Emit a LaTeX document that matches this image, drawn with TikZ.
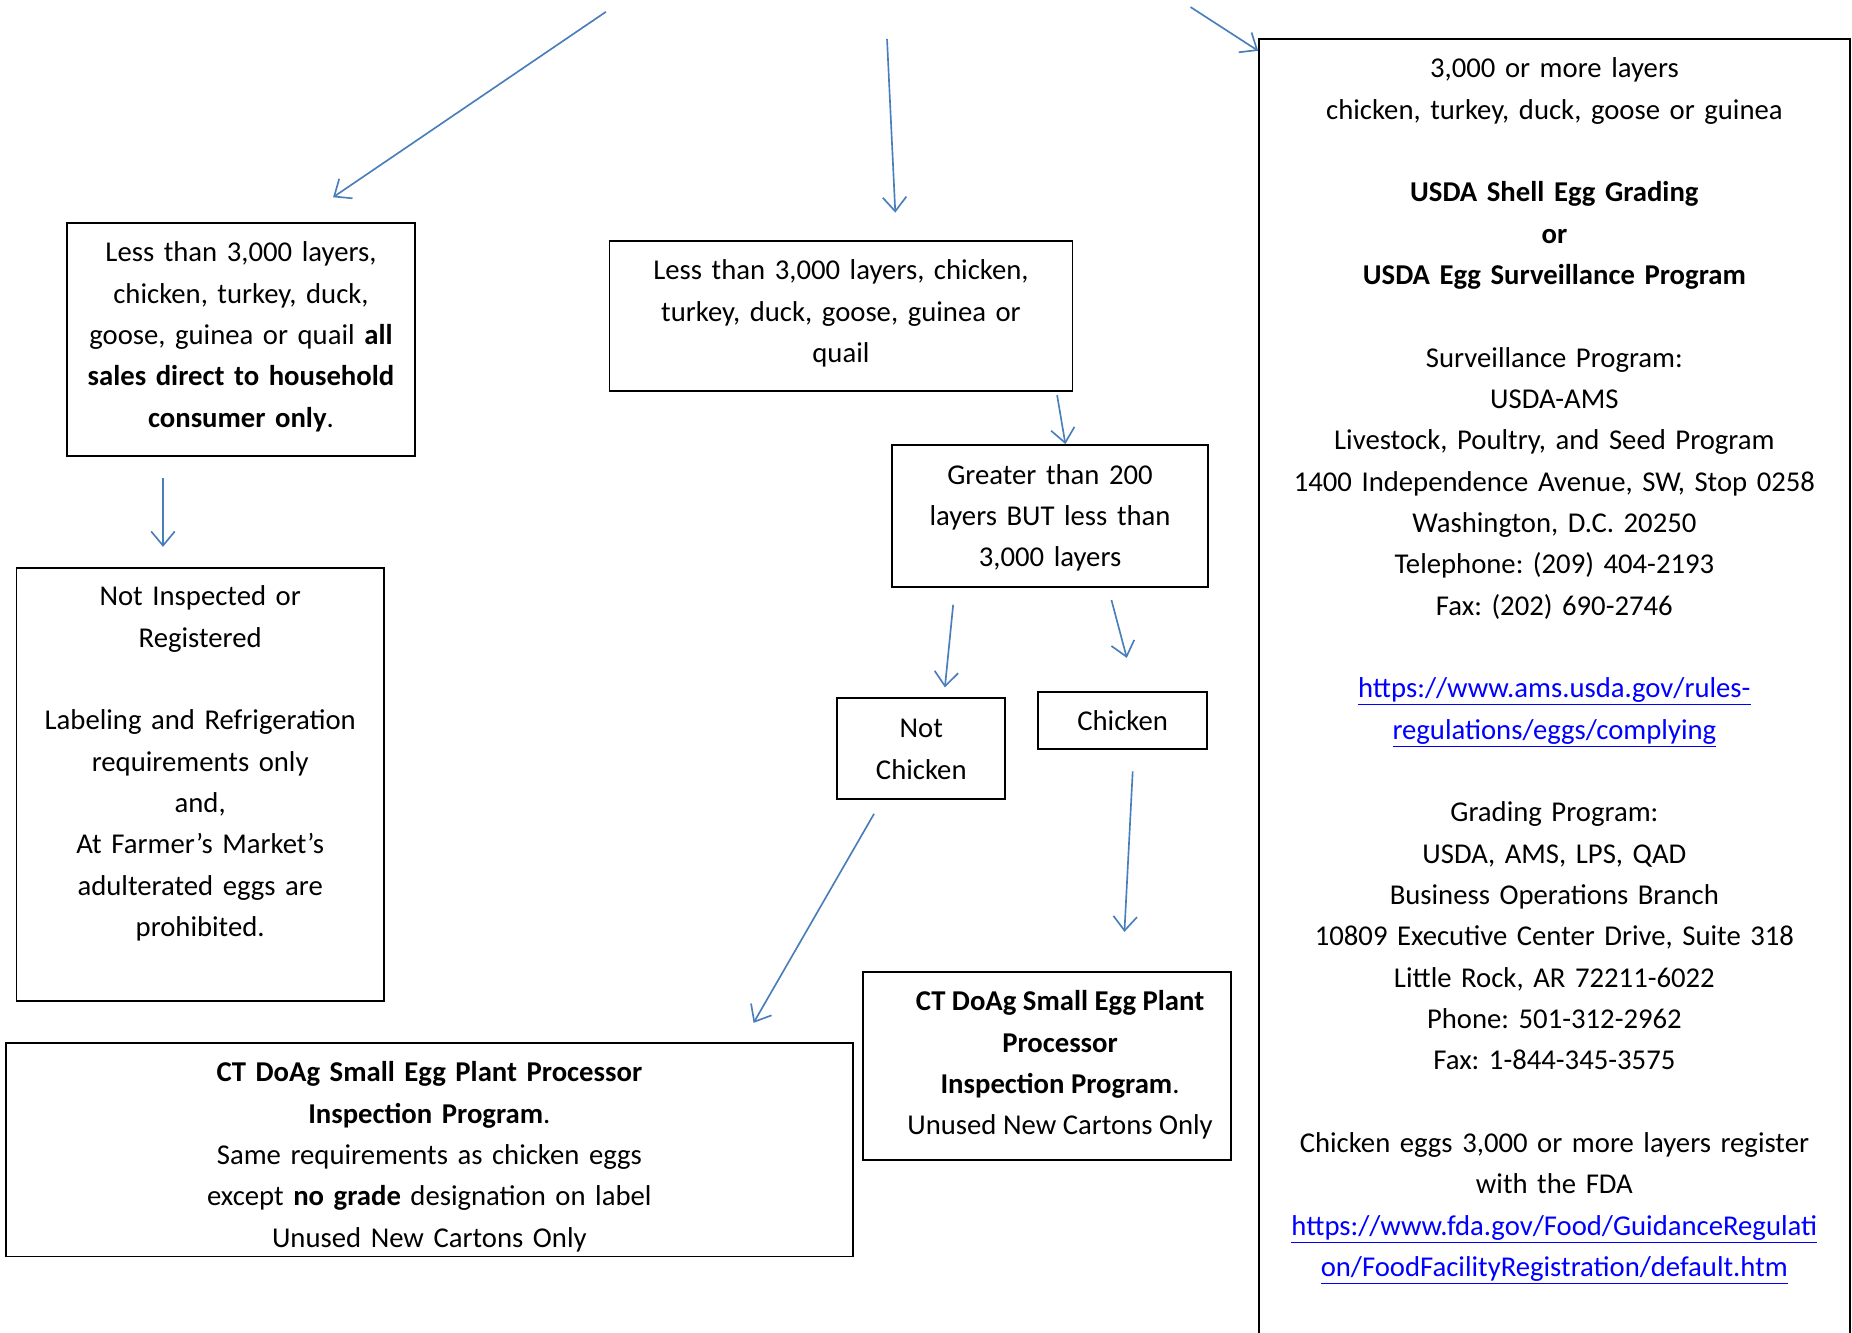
\documentclass[tikz,border=0pt]{standalone}
\usepackage{fontspec}
\setmainfont{Carlito}
\usetikzlibrary{arrows.meta}
\definecolor{arrowblue}{RGB}{74,126,187}
\definecolor{linkblue}{RGB}{0,0,255}
\newcommand{\weblink}[1]{\textcolor{linkblue}{\underline{#1}}}
\frenchspacing

\begin{document}
\begin{tikzpicture}[x=1pt,y=-1pt,
  font=\fontsize{24.3}{35}\selectfont,
  box/.style={draw, line width=1.6pt, inner sep=0pt, align=center, anchor=north},
  flow/.style={draw=arrowblue, line width=1.4pt, -{Straight Barb[length=12pt,width=20pt]}}]
\useasboundingbox (0,0) rectangle (1568,1128);
\clip (0,0) rectangle (1568,1128);

% boxes
\node[box, text width=294pt, text height=33pt, text depth=164pt] (lessall) at (204,188)
  {Less than 3,000 layers,\\ chicken, turkey, duck,\\ goose, guinea or quail \textbf{all}\\ \textbf{sales direct to household}\\ \textbf{consumer only}.};
\node[box, text width=392pt, text height=33pt, text depth=94pt] (lessmid) at (712,203)
  {Less than 3,000 layers, chicken,\\ turkey, duck, goose, guinea or\\ quail};
\node[box, text width=268pt, text height=33pt, text depth=87pt] (range) at (889,376)
  {Greater than 200\\ layers BUT less than\\ 3,000 layers};
\node[box, text width=142pt, text height=34pt, text depth=52pt] (notchicken) at (780,590)
  {Not\\ Chicken};
\node[box, text width=143pt, text height=33pt, text depth=15pt] (chicken) at (950.5,585)
  {Chicken};
\node[box, text width=311pt, text height=32pt, text depth=335pt] (notinsp) at (169.5,480)
  {Not Inspected or\\ Registered\\[35pt] Labeling and Refrigeration\\ requirements only\\ and,\\ At Farmer’s Market’s\\ adulterated eggs are\\ prohibited.};
\node[box, text width=717pt, text height=33pt, text depth=148pt] (ctleft) at (363.5,882)
  {\textbf{CT DoAg Small Egg Plant Processor}\\ \textbf{Inspection Program}.\\ Same requirements as chicken eggs\\ except \textbf{no grade} designation on label\\ Unused New Cartons Only};
% text sits a little right of centre in this one
\node[box, align=left, minimum width=311pt, text height=33pt, text depth=126pt] (ctright) at (886.5,822)
  {\hspace*{22pt}\begin{tabular}[t]{@{}c@{}}\textbf{CT DoAg Small Egg Plant}\\ \textbf{Processor}\\ \textbf{Inspection Program}.\\ Unused New Cartons Only\end{tabular}};
\node[box, text width=500pt, text height=33pt, text depth=1120pt] (usda) at (1316,32)
  {3,000 or more layers\\
   chicken, turkey, duck, goose or guinea\\[35pt]
   \textbf{USDA Shell Egg Grading}\\
   \textbf{or}\\
   \textbf{USDA Egg Surveillance Program}\\[35pt]
   Surveillance Program:\\
   USDA-AMS\\
   Livestock, Poultry, and Seed Program\\
   1400 Independence Avenue, SW, Stop 0258\\
   Washington, D.C. 20250\\
   Telephone: (209) 404-2193\\
   Fax: (202) 690-2746\\[35pt]
   \weblink{https://www.ams.usda.gov/rules-}\\
   \weblink{regulations/eggs/complying}\\[35pt]
   Grading Program:\\
   USDA, AMS, LPS, QAD\\
   Business Operations Branch\\
   10809 Executive Center Drive, Suite 318\\
   Little Rock, AR 72211-6022\\
   Phone: 501-312-2962\\
   Fax: 1-844-345-3575\\[35pt]
   Chicken eggs 3,000 or more layers register\\
   with the FDA\\
   \weblink{https://www.fda.gov/Food/GuidanceRegulati}\\
   \weblink{on/FoodFacilityRegistration/default.htm}};

% free arrow ends
\coordinate (leftstart) at (513,10);
\coordinate (leftend) at (282,167);
\coordinate (midstart) at (751,33);
\coordinate (midend) at (758,180);
\coordinate (rightstart) at (1008,6);
\coordinate (inspstart) at (138,405);
\coordinate (inspend) at (138,463);
\coordinate (notchstart) at (807,512);
\coordinate (notchend) at (800,582);
\coordinate (chstart) at (941,508);
\coordinate (chend) at (954,557);
\coordinate (ctlstart) at (740,689);
\coordinate (ctlend) at (638,866);
\coordinate (ctrstart) at (959,653);
\coordinate (ctrend) at (952,789);

% arrows
\draw[flow] (leftstart) -- (leftend);
\draw[flow] (midstart) -- (midend);
\draw[flow] (rightstart) -- ([yshift=-11pt]usda.north west);
\draw[flow] ([xshift=183pt,yshift=-3pt]lessmid.south) -- ([xshift=13pt]range.north);
\draw[flow] (inspstart) -- (inspend);
\draw[flow] (notchstart) -- (notchend);
\draw[flow] (chstart) -- (chend);
\draw[flow] (ctlstart) -- (ctlend);
\draw[flow] (ctrstart) -- (ctrend);
\end{tikzpicture}
\end{document}
